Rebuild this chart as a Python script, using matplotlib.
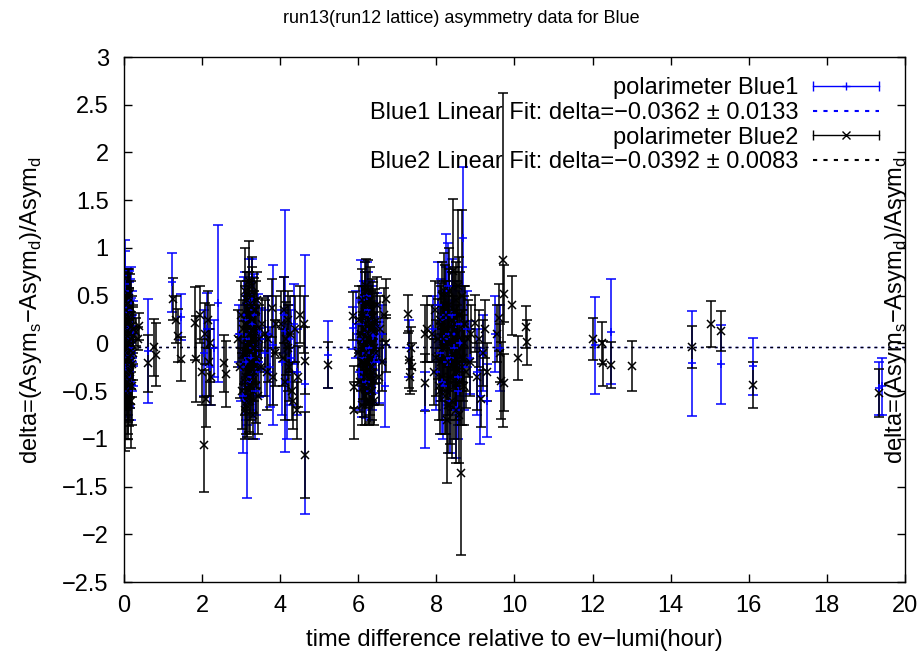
import matplotlib
matplotlib.use("Agg")
import matplotlib.pyplot as plt
from matplotlib.lines import Line2D
from matplotlib.legend_handler import HandlerBase

plt.rcParams["font.family"] = ["Liberation Sans", "DejaVu Sans"]
plt.rcParams["mathtext.fontset"] = "custom"
plt.rcParams["mathtext.rm"] = "Liberation Sans"

# ---- polarimeter Blue1 (blue, + marker) ----
blue1_x = [0.02, 0.04, 0.05, 0.07, 0.08, 0.10, 0.11, 0.12, 0.13, 0.15, 0.16, 0.17, 0.19, 0.20, 0.22, 0.24, 0.03, 0.09, 0.14, 0.18,
           0.03, 0.06, 0.09, 0.12, 0.15, 0.18, 0.21, 0.05,
           0.61, 1.23, 1.45,
           2.05, 2.12, 2.20, 2.30, 2.40,
           2.95, 3.00, 3.05, 3.08, 3.12, 3.14, 3.18, 3.20, 3.24, 3.27, 3.30, 3.33, 3.37, 3.42, 3.46, 3.50,
           3.10, 3.15, 3.20, 3.25, 3.30, 3.35, 3.12, 3.28,
           3.60, 3.68, 3.75, 3.82,
           4.05, 4.10, 4.12, 4.18, 4.22, 4.28, 4.35, 4.42, 4.63,
           5.22, 5.86,
           5.95, 6.02, 6.06, 6.10, 6.13, 6.16, 6.20, 6.23, 6.27, 6.30, 6.34, 6.38, 6.42, 6.47, 6.52, 6.60, 6.68,
           6.10, 6.15, 6.20, 6.25, 6.30, 6.35, 6.40, 6.22,
           7.30, 7.70,
           7.92, 7.98, 8.03, 8.08, 8.12, 8.16, 8.20, 8.24, 8.28, 8.32, 8.36, 8.40, 8.44, 8.50, 8.55, 8.60, 8.67, 8.72, 8.78, 8.85,
           8.15, 8.25, 8.35, 8.45, 8.55, 8.65, 8.30, 8.50,
           9.05, 9.12, 9.20, 9.30, 9.50, 9.62,
           12.05, 12.46, 14.55, 15.30, 16.10, 19.33, 19.40]
blue1_y = [0.55, 0.32, -0.12, 0.21, -0.35, 0.08, 0.41, -0.22, 0.15, -0.05, 0.28, -0.40, 0.02, 0.18, -0.15, 0.10, 0.62, -0.28, 0.35, -0.08,
           -0.25, 0.38, -0.50, 0.22, -0.30, 0.45, -0.10, 0.12,
           -0.08, 0.64, 0.28,
           -0.10, 0.15, -0.25, -0.05, 0.42,
           0.10, -0.25, -0.55, 0.30, 0.05, -0.60, -0.15, 0.42, -0.35, 0.20, -0.05, 0.35, -0.30, 0.12, -0.20, 0.05,
           0.25, -0.40, 0.10, -0.15, 0.30, -0.50, -0.20, 0.48,
           -0.10, 0.10, -0.25, -0.02,
           -0.20, 0.30, 0.13, -0.40, 0.05, -0.15, 0.20, -0.30, -0.43,
           -0.12, 0.16,
           0.20, -0.30, 0.45, 0.05, -0.15, 0.30, -0.40, 0.12, -0.05, 0.25, -0.25, 0.08, -0.12, 0.18, -0.20, 0.10, -0.45,
           -0.35, 0.20, -0.10, 0.35, -0.50, 0.10, -0.20, 0.50,
           -0.05, -0.70,
           0.15, -0.30, 0.40, -0.10, 0.25, -0.45, 0.05, 0.55, -0.20, 0.10, -0.60, 0.30, -0.05, 0.20, -0.35, 0.00, 1.10, -0.25, 0.15, -0.15,
           -0.40, 0.30, -0.15, 0.10, -0.50, 0.20, 0.60, -0.70,
           -0.30, -0.55, -0.10, -0.60, 0.10, -0.05,
           -0.02, 0.12, -0.21, -0.22, -0.24, -0.47, -0.45]
blue1_err = [0.53, 0.40, 0.35, 0.45, 0.42, 0.38, 0.36, 0.44, 0.50, 0.33, 0.39, 0.40, 0.46, 0.37, 0.30, 0.34, 0.35, 0.47, 0.41, 0.36,
             0.45, 0.40, 0.30, 0.42, 0.38, 0.35, 0.40, 0.50,
             0.54, 0.31, 0.24,
             0.45, 0.38, 0.40, 0.30, 0.82,
             0.30, 0.35, 0.60, 0.40, 0.45, 1.02, 0.38, 0.46, 0.42, 0.33, 0.50, 0.38, 0.45, 0.40, 0.36, 0.32,
             0.50, 0.45, 0.50, 0.55, 0.40, 0.50, 0.60, 0.40,
             0.45, 0.40, 0.42, 0.84,
             0.55, 0.40, 1.27, 0.60, 0.35, 0.50, 0.42, 0.45, 1.36,
             0.35, 0.22,
             0.35, 0.40, 0.42, 0.38, 0.45, 0.35, 0.38, 0.50, 0.42, 0.40, 0.45, 0.36, 0.40, 0.35, 0.42, 0.30, 0.43,
             0.42, 0.45, 0.50, 0.40, 0.30, 0.50, 0.45, 0.35,
             0.30, 0.40,
             0.35, 0.40, 0.45, 0.50, 0.42, 0.55, 0.48, 0.60, 0.45, 0.50, 0.55, 0.58, 0.45, 0.40, 0.50, 0.55, 0.75, 0.45, 0.40, 0.38,
             0.55, 0.50, 0.60, 0.55, 0.50, 0.60, 0.45, 0.50,
             0.45, 0.50, 0.40, 0.38, 0.40, 0.45,
             0.51, 0.55, 0.55, 0.41, 0.30, 0.28, 0.30]

# ---- polarimeter Blue2 (black, x marker) ----
blue2_x = [0.01, 0.02, 0.03, 0.04, 0.05, 0.06, 0.07, 0.08, 0.09, 0.10, 0.11, 0.12, 0.13, 0.14, 0.15, 0.16, 0.17, 0.18, 0.19, 0.20,
           0.21, 0.22, 0.23, 0.24, 0.03, 0.06, 0.09, 0.12, 0.15, 0.18, 0.05, 0.10, 0.14, 0.08, 0.11,
           0.02, 0.04, 0.06, 0.08, 0.10, 0.12, 0.14, 0.16, 0.18, 0.20, 0.07, 0.13, 0.17, 0.04, 0.11,
           0.30, 0.35, 0.38,
           0.62, 0.78, 0.82, 1.25, 1.33, 1.37, 1.47,
           1.82, 1.84, 1.95, 2.00, 2.05, 2.08, 2.09, 2.14, 2.17, 2.20, 2.24, 2.55, 2.60,
           2.92, 2.96, 3.00, 3.03, 3.06, 3.08, 3.10, 3.12, 3.14, 3.16, 3.18, 3.20, 3.22, 3.24, 3.26, 3.28, 3.30, 3.32, 3.34, 3.36,
           3.38, 3.40, 3.43, 3.46, 3.50, 3.53, 3.10, 3.20, 3.30, 3.15,
           3.09, 3.11, 3.13, 3.15, 3.17, 3.19, 3.21, 3.23, 3.25, 3.27, 3.29, 3.31, 3.33, 3.35, 3.37, 3.39, 3.13, 3.23, 3.27, 3.18,
           3.60, 3.65, 3.70, 3.78, 3.82, 3.86, 3.90,
           4.02, 4.06, 4.10, 4.13, 4.16, 4.20, 4.23, 4.26, 4.30, 4.34, 4.38, 4.42, 4.46, 4.50, 4.20, 4.60, 4.63, 4.63,
           5.22, 5.86, 5.88, 5.90,
           6.00, 6.02, 6.04, 6.06, 6.08, 6.10, 6.12, 6.14, 6.16, 6.18, 6.20, 6.22, 6.24, 6.26, 6.28, 6.30, 6.32, 6.34, 6.36, 6.38,
           6.40, 6.42, 6.45, 6.48, 6.52, 6.56, 6.60, 6.65, 6.70, 6.72, 6.10, 6.20, 6.30, 6.15, 6.25,
           6.09, 6.11, 6.13, 6.15, 6.17, 6.19, 6.21, 6.23, 6.25, 6.27, 6.29, 6.31, 6.33, 6.35, 6.37, 6.39, 6.41, 6.18, 6.28, 6.38,
           7.27, 7.30, 7.32, 7.35, 7.37, 7.70, 7.72, 7.75,
           7.90, 7.93, 7.96, 8.00, 8.03, 8.06, 8.09, 8.12, 8.15, 8.18, 8.20, 8.22, 8.25, 8.28, 8.30, 8.33, 8.36, 8.38, 8.40, 8.43,
           8.45, 8.48, 8.50, 8.53, 8.56, 8.60, 8.63, 8.65, 8.68, 8.72, 8.76, 8.80, 8.85, 8.88, 8.10, 8.20, 8.30, 8.50, 8.58, 8.70,
           8.12, 8.15, 8.18, 8.21, 8.24, 8.27, 8.30, 8.33, 8.36, 8.39, 8.42, 8.45, 8.48, 8.51, 8.54, 8.57, 8.60, 8.66, 8.70, 8.74,
           9.00, 9.05, 9.10, 9.15, 9.20, 9.25, 9.30, 9.55, 9.60, 9.62, 9.65, 9.70, 9.72, 9.74,
           9.93, 10.08, 10.30, 10.32,
           12.02, 12.24, 12.26, 12.46, 13.00, 14.55, 15.04, 15.30, 16.10, 19.33]
blue2_y = [0.45, -0.20, 0.10, -0.55, 0.30, -0.05, 0.20, -0.35, 0.52, 0.00, -0.15, 0.25, -0.45, 0.12, -0.28, 0.38, -0.08, 0.05, -0.60, 0.18,
           -0.22, 0.08, -0.10, 0.15, -0.65, 0.35, -0.40, 0.22, -0.30, 0.00, 0.12, -0.50, 0.28, -0.18, 0.42,
           0.05, -0.30, 0.40, -0.10, 0.20, -0.38, 0.10, -0.20, 0.30, -0.45, 0.00, 0.48, -0.12, 0.22, -0.55,
           0.12, 0.05, 0.18,
           -0.21, -0.04, -0.12, 0.47, 0.25, 0.08, -0.16,
           0.21, -0.16, 0.30, -0.30, -1.06, 0.10, -0.58, 0.25, -0.20, 0.00, -0.35, -0.21, -0.32,
           0.05, -0.25, 0.30, -0.50, 0.15, -0.10, 0.55, -0.35, 0.20, -0.60, 0.00, 0.40, -0.20, 0.10, -0.45, 0.25, -0.05, 0.35, -0.30, 0.12,
           -0.15, 0.45, -0.55, 0.05, -0.25, 0.20, -0.70, 0.65, -0.75, 0.30,
           -0.40, 0.20, -0.10, 0.45, -0.30, 0.10, -0.55, 0.30, -0.20, 0.05, 0.50, -0.35, 0.15, -0.05, 0.35, -0.45, -0.65, -0.60, 0.60, 0.00,
           0.10, -0.30, 0.05, 0.37, -0.35, -0.10, 0.20,
           0.20, -0.15, 0.35, -0.40, 0.05, 0.25, -0.25, 0.10, -0.50, -0.60, 0.15, -0.70, -0.35, 0.30, -0.05, 0.20, -0.18, -1.17,
           -0.23, 0.29, -0.46, -0.70,
           -0.10, 0.25, -0.40, 0.10, -0.20, 0.45, -0.05, 0.30, -0.55, 0.15, -0.30, 0.05, 0.55, -0.15, 0.20, -0.45, 0.00, 0.35, -0.25, 0.12,
           -0.60, 0.22, -0.10, 0.40, -0.35, 0.15, -0.20, 0.30, 0.47, 0.00, -0.65, 0.60, -0.50, -0.35, 0.25,
           0.30, -0.20, 0.05, -0.45, 0.40, -0.10, 0.20, -0.35, 0.10, -0.60, 0.45, -0.25, 0.15, -0.50, 0.28, -0.05, 0.18, 0.55, -0.62, -0.30,
           0.31, -0.17, -0.35, -0.05, -0.25, -0.41, 0.10, 0.15,
           0.10, -0.30, 0.35, -0.15, 0.05, -0.45, 0.25, -0.20, 0.50, -0.05, 0.15, -0.55, 0.30, -0.80, 0.00, 0.40, -0.35, 0.10, -0.60, 0.76,
           0.20, -0.25, 0.45, -0.10, 0.60, -0.40, -1.36, 0.50, -0.15, 0.20, -0.30, 0.05, -0.20, 0.10, -0.50, 0.55, -0.65, -0.70, 0.30, -0.45,
           0.20, -0.35, 0.05, 0.40, -0.50, 0.15, -0.20, 0.55, -0.65, 0.25, -0.10, -0.45, 0.35, -0.30, 0.10, -0.75, 0.30, -0.25, 0.00, 0.20,
           0.21, -0.35, 0.05, -0.58, -0.10, 0.15, -0.30, 0.10, 0.27, -0.10, -0.39, 0.87, 0.52, -0.41,
           0.40, -0.15, 0.17, 0.01,
           0.05, 0.00, -0.21, -0.23, -0.24, -0.04, 0.20, 0.13, -0.44, -0.52]
blue2_err = [0.30, 0.35, 0.28, 0.45, 0.32, 0.30, 0.35, 0.40, 0.26, 0.38, 0.30, 0.33, 0.42, 0.30, 0.36, 0.35, 0.30, 0.28, 0.50, 0.32,
             0.34, 0.30, 0.28, 0.25, 0.48, 0.30, 0.42, 0.34, 0.38, 0.30, 0.35, 0.45, 0.30, 0.33, 0.32,
             0.35, 0.40, 0.30, 0.38, 0.35, 0.42, 0.33, 0.36, 0.35, 0.40, 0.38, 0.30, 0.36, 0.34, 0.45,
             0.15, 0.12, 0.14,
             0.30, 0.30, 0.33, 0.22, 0.25, 0.28, 0.23,
             0.38, 0.45, 0.30, 0.35, 0.50, 0.32, 0.30, 0.30, 0.35, 0.40, 0.30, 0.30, 0.35,
             0.30, 0.32, 0.35, 0.40, 0.30, 0.33, 0.45, 0.35, 0.30, 0.38, 0.40, 0.35, 0.30, 0.42, 0.35, 0.30, 0.38, 0.33, 0.30, 0.35,
             0.32, 0.30, 0.40, 0.35, 0.30, 0.28, 0.30, 0.42, 0.25, 0.35,
             0.35, 0.40, 0.38, 0.30, 0.35, 0.42, 0.38, 0.35, 0.40, 0.45, 0.30, 0.38, 0.40, 0.35, 0.30, 0.38, 0.30, 0.35, 0.30, 0.45,
             0.35, 0.40, 0.45, 0.30, 0.30, 0.35, 0.30,
             0.35, 0.30, 0.35, 0.40, 0.38, 0.30, 0.35, 0.40, 0.30, 0.30, 0.35, 0.30, 0.32, 0.30, 0.45, 0.30, 0.35, 0.45,
             0.24, 0.25, 0.22, 0.30,
             0.30, 0.35, 0.32, 0.38, 0.30, 0.33, 0.35, 0.30, 0.30, 0.36, 0.35, 0.30, 0.32, 0.36, 0.35, 0.30, 0.40, 0.32, 0.35, 0.30,
             0.25, 0.35, 0.32, 0.30, 0.30, 0.35, 0.30, 0.28, 0.20, 0.30, 0.20, 0.28, 0.32, 0.30, 0.35,
             0.30, 0.38, 0.40, 0.32, 0.35, 0.40, 0.36, 0.33, 0.42, 0.25, 0.35, 0.38, 0.40, 0.30, 0.36, 0.38, 0.35, 0.30, 0.22, 0.35,
             0.20, 0.30, 0.18, 0.22, 0.25, 0.30, 0.30, 0.35,
             0.30, 0.35, 0.30, 0.40, 0.42, 0.35, 0.38, 0.40, 0.35, 0.45, 0.50, 0.40, 0.35, 0.66, 0.50, 0.38, 0.45, 0.50, 0.60, 0.75,
             0.55, 0.45, 0.40, 0.50, 0.80, 0.45, 0.86, 0.90, 0.45, 0.40, 0.38, 0.40, 0.35, 0.30, 0.45, 0.40, 0.50, 0.55, 0.60, 0.40,
             0.40, 0.45, 0.50, 0.42, 0.45, 0.40, 0.55, 0.45, 0.40, 0.50, 0.60, 0.55, 0.45, 0.50, 0.55, 0.50, 0.45, 0.60, 0.50, 0.40,
             0.30, 0.35, 0.30, 0.30, 0.35, 0.30, 0.30, 0.30, 0.35, 0.30, 0.40, 1.75, 0.30, 0.30,
             0.31, 0.23, 0.22, 0.24,
             0.22, 0.22, 0.24, 0.24, 0.26, 0.22, 0.24, 0.21, 0.24, 0.25]

# linear (constant) fits
fit1, fit1_err = -0.0362, 0.0133
fit2, fit2_err = -0.0392, 0.0083
fit_range = [0, 20]


class GnuErrHandler(HandlerBase):
    # gnuplot style key sample: horizontal bar with end caps and the point in the middle
    def create_artists(self, legend, orig_handle, xdescent, ydescent, width, height, fontsize, trans):
        c = orig_handle.get_color()
        m = orig_handle.get_marker()
        y = height / 2 - ydescent
        x0, x1 = -xdescent, -xdescent + width
        bar = Line2D([x0, x1], [y, y], color=c, lw=1, transform=trans)
        caps = Line2D([x0, x1], [y, y], ls="none", marker="|", ms=7, mew=1, color=c, transform=trans)
        mid = Line2D([(x0 + x1) / 2], [y], ls="none", marker=m, ms=6, mew=1, color=c, transform=trans)
        return [bar, caps, mid]


def fmt(v):
    return f"{v:.4f}".replace("-", "\u2212")


FS = 17

fig = plt.figure(figsize=(9.22, 6.56), dpi=100)
ax = fig.add_axes([0.1345, 0.1128, 0.847, 0.8003])

ax.errorbar(blue1_x, blue1_y, yerr=blue1_err, fmt="+", color="#0000ff", ecolor="#0000ff",
            elinewidth=1.1, capsize=3.5, capthick=1.1, ms=6, mew=1.1)
ax.plot(fit_range, [fit1, fit1], color="#0000ff", lw=1, ls=(0, (2, 3)))
ax.errorbar(blue2_x, blue2_y, yerr=blue2_err, fmt="x", color="black", ecolor="black",
            elinewidth=1.1, capsize=3.5, capthick=1.1, ms=6, mew=1.1)
ax.plot(fit_range, [fit2, fit2], color="black", lw=1, ls=(0, (2, 3)))

ax.set_xlim(0, 20)
ax.set_ylim(-2.5, 3)
ax.set_xticks(range(0, 21, 2))
ax.set_yticks([-2.5, -2, -1.5, -1, -0.5, 0, 0.5, 1, 1.5, 2, 2.5, 3])
ax.set_yticklabels(["\u22122.5", "\u22122", "\u22121.5", "\u22121", "\u22120.5", "0",
                    "0.5", "1", "1.5", "2", "2.5", "3"])
ax.tick_params(direction="in", top=True, right=True, length=6, width=1, labelsize=FS)
ax.tick_params(axis="x", pad=9)
ax.tick_params(axis="y", pad=11)
for s in ax.spines.values():
    s.set_linewidth(1)

ylab = r"delta=(Asym$_\mathregular{s}$$\mathregular{-}$Asym$_\mathregular{d}$)/Asym$_\mathregular{d}$"
ax.set_ylabel(ylab, fontsize=FS)
ax.yaxis.set_label_coords(-0.102, 0.518)
fig.text(0.972, 0.528, ylab, rotation=90, fontsize=FS, ha="center", va="center")
fig.text(0.5 * (0.1345 + 0.9815), 1 - 640 / 656, "time difference relative to ev\u2212lumi(hour)",
         fontsize=FS, ha="center", va="center")
fig.text(0.5, 0.972, "run13(run12 lattice) asymmetry data for Blue", fontsize=13, ha="center", va="center")

handles = [Line2D([], [], color="#0000ff", marker="+"),
           Line2D([], [], color="#0000ff", ls=(0, (2, 3))),
           Line2D([], [], color="black", marker="x"),
           Line2D([], [], color="black", ls=(0, (2, 3)))]
labels = ["polarimeter Blue1",
          f"Blue1 Linear Fit: delta={fmt(fit1)} \u00b1 {fit1_err:.4f}",
          "polarimeter Blue2",
          f"Blue2 Linear Fit: delta={fmt(fit2)} \u00b1 {fit2_err:.4f}"]
hm = {handles[0]: GnuErrHandler(), handles[2]: GnuErrHandler()}
ax.legend(handles, labels, handler_map=hm, loc="upper right", bbox_to_anchor=(879 / 922, 1 - 77 / 656),
          bbox_transform=fig.transFigure, frameon=False, markerfirst=False, fontsize=FS,
          handlelength=2.8, handletextpad=0.6, labelspacing=0.12, borderpad=0, borderaxespad=0)

fig.savefig("out.png", dpi=100)
